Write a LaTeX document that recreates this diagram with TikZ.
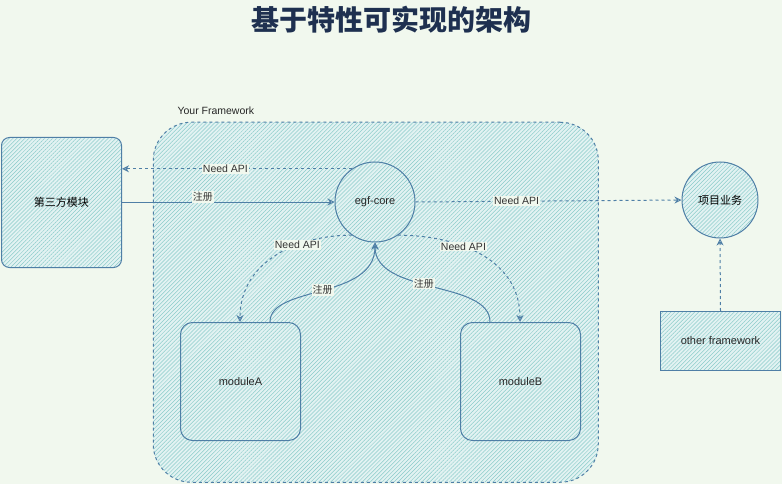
\documentclass[tikz,border=0pt]{standalone}
\usepackage{fontspec}
\setmainfont{Liberation Sans}
\newfontfamily\cjk{Noto Sans CJK SC}
\usetikzlibrary{patterns.meta,arrows.meta}
\definecolor{bg}{HTML}{F1F8EE}
\definecolor{ln}{HTML}{4F7FA6}
\definecolor{ht}{HTML}{8CCCCA}
\definecolor{tt}{HTML}{1E3050}
\tikzset{
 hatch/.style={draw=ln,line width=1pt,preaction={fill=ht!25},pattern={Lines[angle=45,distance=2.8pt,line width=0.5pt]},pattern color=ht},
 lbl/.style={fill=bg,inner sep=1pt,font=\cjk\fontsize{10}{12}\selectfont,text=black!80},
 elbl/.style={lbl,font=\fontsize{10.5}{12}\selectfont},
 con/.style={draw=ln,line width=1pt,-{Stealth[open,length=7pt,width=7pt]}},
 dcon/.style={con,dashed},
 txt/.style={font=\fontsize{11}{13}\selectfont,text=black!85}
}
\begin{document}
\begin{tikzpicture}[x=1pt,y=-1pt]
\fill[bg] (0,0) rectangle (782,484);
\useasboundingbox (0,0) rectangle (782,484);
\node[font=\cjk\bfseries\fontsize{28}{32}\selectfont,text=tt] (title) at (391,20) {基于特性可实现的架构};
\node[hatch,dashed,rounded corners=38pt,minimum width=445pt,minimum height=360pt,anchor=north west] (fw) at (153,122) {};
\node[anchor=west,txt,font=\fontsize{10.5}{12}\selectfont] (fwl) at (174,111) {Your Framework};
\node[hatch,rounded corners=8pt,minimum width=120pt,minimum height=130pt,anchor=north west,font=\cjk\fontsize{11}{13}\selectfont] (third) at (1,137) {第三方模块};
\node[hatch,circle,minimum size=80pt,txt] (core) at (375,202) {egf-core};
\node[hatch,circle,minimum size=76pt,font=\cjk\fontsize{11}{13}\selectfont] (biz) at (720,200) {项目业务};
\node[hatch,minimum width=120pt,minimum height=59pt,anchor=north west,txt] (other) at (660,311) {other framework};
\node[hatch,rounded corners=12pt,minimum width=120pt,minimum height=118pt,anchor=north west,txt] (ma) at (180,322) {moduleA};
\node[hatch,rounded corners=12pt,minimum width=120pt,minimum height=118pt,anchor=north west,txt] (mb) at (460,322) {moduleB};
\coordinate (a0) at (270,322);
\coordinate (b0) at (490,322);
\coordinate (a1) at (240,322);
\coordinate (b1) at (520,322);
\draw[dcon] (core.125) -- (third.east|-core.125) node[pos=0.55,elbl] {Need API};
\draw[con] (third.east|-core) -- (core.west) node[pos=0.38,above=-1pt,lbl] {注册};
\draw[dcon] (core.east) -- (biz.west) node[pos=0.38,elbl] {Need API};
\draw[dcon] (other.north) -- (biz.south);
\draw[con] (a0) .. controls (270,285) and (375,300) .. (core.south) node[pos=0.5,lbl] {注册};
\draw[con] (b0) .. controls (490,280) and (375,295) .. (core.south) node[pos=0.55,lbl] {注册};
\draw[dcon] (core.235) .. controls (300,235) and (240,260) .. (a1) node[pos=0.35,elbl] {Need API};
\draw[dcon] (core.305) .. controls (450,235) and (520,255) .. (b1) node[pos=0.4,elbl] {Need API};
\end{tikzpicture}
\end{document}
